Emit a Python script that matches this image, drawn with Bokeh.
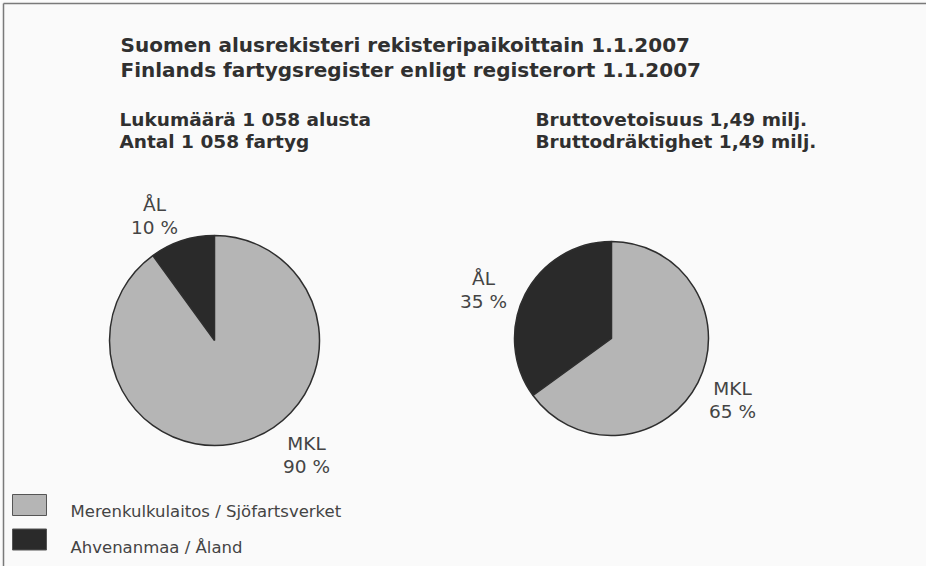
import numpy as np
from bokeh.plotting import figure
from bokeh.models import Range1d, ColumnDataSource
from bokeh.core.properties import value
from bokeh.embed import file_html
from bokeh.resources import INLINE

# ---- data ----
title_lines = ["Suomen alusrekisteri rekisteripaikoittain 1.1.2007",
               "Finlands fartygsregister enligt registerort 1.1.2007"]
left_sub = ["Lukumäärä 1 058 alusta", "Antal 1 058 fartyg"]
right_sub = ["Bruttovetoisuus 1,49  milj.", "Bruttodräktighet 1,49 milj."]
categories = ["ÅL", "MKL"]
count_share = [10, 90]      # % of vessels
tonnage_share = [35, 65]    # % of gross tonnage
legend_labels = ["Merenkulkulaitos / Sjöfartsverket", "Ahvenanmaa / Åland"]
colors = {"ÅL": "#2a2a2a", "MKL": "#b5b5b5"}
legend_colors = ["#b5b5b5", "#2a2a2a"]

W, H = 926, 566
IMG_H = 582

def Y(img_y):
    return IMG_H - img_y

p = figure(width=W, height=H, output_backend="svg", toolbar_location=None,
           x_range=Range1d(8, 8 + W), y_range=Range1d(IMG_H - 8 - H, IMG_H - 8),
           min_border=0, outline_line_color=None,
           background_fill_color="#fafafa", border_fill_color="#fafafa")
p.axis.visible = False
p.grid.visible = False

# frame lines (left and top)
p.segment(x0=[11, 11], y0=[Y(11), Y(11)], x1=[11, 942], y1=[Y(590), Y(11)],
          line_color="#7a7a7a", line_width=1.5)

BOLD = dict(text_font=value("DejaVu Sans"), text_font_style="bold",
            text_color="#303030", text_baseline="alphabetic", text_align="left")
REG = dict(text_font=value("DejaVu Sans"), text_color="#444444",
           text_baseline="alphabetic", text_align="center")

p.text(x=[128, 128], y=[Y(52), Y(77)], text=title_lines,
       text_font_size="20px", **BOLD)
p.text(x=[127, 127], y=[Y(127), Y(149)], text=left_sub,
       text_font_size="18.5px", **BOLD)
p.text(x=[543, 543], y=[Y(127), Y(149)], text=right_sub,
       text_font_size="18.5px", **BOLD)

def pie(cx, cy, r, shares, label_pos):
    total = float(sum(shares))
    fracs = np.array(shares) / total
    ends = np.cumsum(fracs) * 2 * np.pi
    starts = ends - fracs * 2 * np.pi
    src = ColumnDataSource(dict(
        x=[cx] * len(shares), y=[Y(cy)] * len(shares),
        start=list(np.pi / 2 + starts), end=list(np.pi / 2 + ends),
        color=[colors[c] for c in categories]))
    p.wedge(x="x", y="y", radius=r, radius_units="screen",
            start_angle="start", end_angle="end", direction="anticlock",
            fill_color="color", line_color="#2e2e2e", line_width=1.5, source=src)
    for cat, sh, (lx, ly) in zip(categories, shares, label_pos):
        p.text(x=[lx, lx], y=[Y(ly), Y(ly + 23)], text=[cat, f"{sh} %"],
               text_font_size="18.5px", **REG)

pie(222, 348, 105, count_share, [(162, 212), (314, 451)])
pie(619, 346, 97, tonnage_share, [(491, 286), (740, 396)])

# legend
ly = [512.5, 547]
p.rect(x=[37, 37], y=[Y(v) for v in ly], width=34, height=21,
       fill_color=legend_colors, line_color="#555555", line_width=1)
p.text(x=[78, 78], y=[Y(519), Y(555)], text=legend_labels,
       text_font=value("DejaVu Sans"), text_color="#444444",
       text_baseline="alphabetic", text_align="left", text_font_size="16.5px")

open("out.html", "w").write(file_html(p, INLINE))
